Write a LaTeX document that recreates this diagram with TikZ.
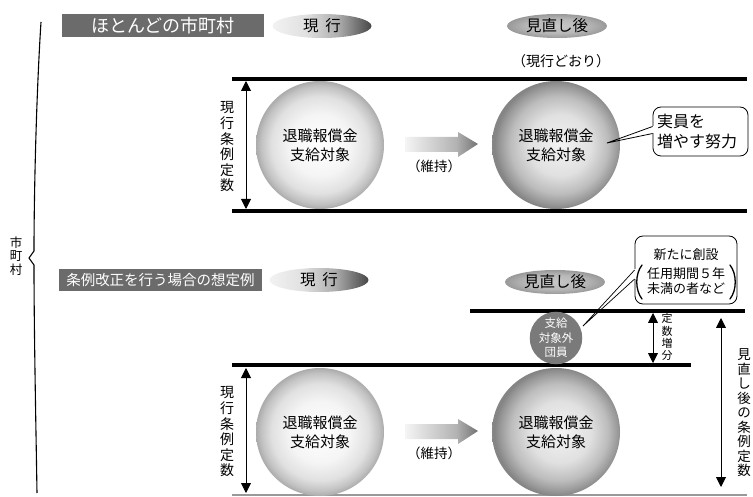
\documentclass[tikz,border=0pt]{standalone}
\usepackage{fontspec}
\setmainfont{Noto Sans CJK JP}
\usetikzlibrary{shapes.geometric,arrows.meta}
\pgfdeclareradialshading{sphA}{\pgfpoint{0bp}{0bp}}{color(0bp)=(white); color(12bp)=(black!4); color(19bp)=(black!12); color(23bp)=(black!24); color(25bp)=(black!33); color(50bp)=(black!33)}
\pgfdeclareradialshading{sphB}{\pgfpoint{2bp}{0bp}}{color(0bp)=(black!5); color(12bp)=(black!12); color(19bp)=(black!26); color(23bp)=(black!40); color(25bp)=(black!48); color(50bp)=(black!48)}
\pgfdeclareradialshading{ovalB}{\pgfpoint{0bp}{0bp}}{color(0bp)=(black!22); color(15bp)=(black!28); color(25bp)=(black!40); color(50bp)=(black!40)}
\pgfdeclarehorizontalshading{ovalA}{100bp}{color(0bp)=(black!5); color(25bp)=(black!5); color(42bp)=(black!12); color(58bp)=(black!32); color(75bp)=(black!72); color(100bp)=(black!72)}
\pgfdeclarehorizontalshading{blockarr}{100bp}{color(0bp)=(black!4); color(25bp)=(black!4); color(60bp)=(black!30); color(75bp)=(black!55); color(100bp)=(black!55)}
\tikzset{
  titlebar/.style={fill=black!58, text=white, inner sep=0pt, minimum height=23pt},
  ovalnow/.style={ellipse, shade, shading=ovalA, minimum width=99pt, minimum height=24pt, inner sep=0pt, font=\fontsize{15.5}{18}\selectfont},
  ovalafter/.style={ellipse, shade, shading=ovalB, minimum width=100pt, minimum height=24pt, inner sep=0pt, font=\fontsize{15.5}{18}\selectfont},
  sphereA/.style={circle, shade, shading=sphA, minimum size=128pt, inner sep=0pt, align=center, font=\fontsize{15}{19}\selectfont},
  sphereB/.style={circle, shade, shading=sphB, minimum size=128pt, inner sep=0pt, align=center, font=\fontsize{15}{19}\selectfont},
  rule/.style={line width=3.8pt},
  vlabel/.style={align=center, inner sep=0pt, font=\fontsize{14}{15.6}\selectfont},
  dimarrow/.style={line width=0.9pt, {Triangle[width=10pt,length=10pt]}-{Triangle[width=10pt,length=10pt]}},
  callout/.style={draw, line width=0.8pt, rounded corners=8pt, fill=white},
  plain/.style={inner sep=0pt, font=\fontsize{13}{16}\selectfont},
  paren/.style={line width=1.3pt, line cap=round},
}
\begin{document}
\begin{tikzpicture}[x=1pt,y=-1pt]
\useasboundingbox (0,0) rectangle (753,497);
% left brace
\draw[line width=1.1pt] (41,22) .. controls (36,100) and (34,200) .. (34,251) -- (29,258) -- (34,265) .. controls (34,330) and (36,430) .. (37,493);
\node[align=center, inner sep=0pt, font=\fontsize{12.5}{13.5}\selectfont] (city) at (16,256) {市\\町\\村};

% ===== section 1 =====
\node[titlebar, minimum width=202pt, font=\fontsize{18}{20}\selectfont] (t1) at (163,25.5) {ほとんどの市町村};
\node[ovalnow] (now1) at (322,26) {現\hspace{0.45em}行};
\node[ovalafter] (after1) at (557,26) {見直し後};
\node[plain, font=\fontsize{14}{16}\selectfont] (same) at (561,61) {（現行どおり）};

\draw[rule] (232,79) -- (747,79);
\draw[rule] (232,211) -- (747,211);

\coordinate (a1t) at (246,81);
\coordinate (a1b) at (246,209);
\draw[dimarrow] (a1t) -- (a1b);
\node[vlabel] (lab1) at (227,147) {現\\行\\条\\例\\定\\数};

\node[sphereA] (s1) at (320,145) {退職報償金\\支給対象};
\node[sphereB] (s2) at (556,145) {退職報償金\\支給対象};

\shade[shading=blockarr] (405,137) -- (458,137) -- (458,132) -- (478,144) -- (458,157) -- (458,152) -- (405,152) -- cycle;
\node[plain, font=\fontsize{13.5}{16}\selectfont] (keep1) at (434,166) {（維持）};

\node[callout, minimum width=95pt, minimum height=49pt] (c1) at (700.5,131.5) {};
\node[align=left, inner sep=0pt, font=\fontsize{16}{20.5}\selectfont, anchor=west] (c1t) at (657,131.5) {実員を\\増やす努力};
\coordinate (p1) at (607,143);
\fill[white] ([xshift=-1.5pt,yshift=-2pt]c1.west) rectangle ([xshift=1.5pt,yshift=5pt]c1.west);
\draw[line width=0.8pt] ([yshift=-2pt]c1.west) -- (p1) -- ([yshift=5pt]c1.west);

% ===== section 2 =====
\node[titlebar, minimum width=203pt, minimum height=22pt, font=\fontsize{14.5}{18}\selectfont] (t2) at (160.5,280) {条例改正を行う場合の想定例};
\node[ovalnow] (now2) at (319,280) {現\hspace{0.45em}行};
\node[ovalafter] (after2) at (555,282) {見直し後};

\draw[rule] (470,311) -- (745,311);
\draw[rule] (232,365) -- (691,365);
\draw[line width=1.4pt, black!40] (232,495) -- (747,495);

\node[circle, fill=black!52, minimum size=52pt, inner sep=0pt, text=white, align=center, font=\fontsize{11.5}{14.5}\selectfont] (sc) at (556,338) {支給\\対象外\\団員};

\node[callout, minimum width=102pt, minimum height=68pt] (c2) at (686,270) {};
\node[plain] (c2a) at (686,255) {新たに創設};
\node[plain, align=center, font=\fontsize{13}{15.5}\selectfont] (c2b) at (686,281) {任用期間５年\\未満の者など};
\draw[paren] (642,265) .. controls (635,274) and (635,290) .. (642,299);
\draw[paren] (730,265) .. controls (737,274) and (737,290) .. (730,299);
\coordinate (p2) at (583,326);
\fill[white] ([xshift=-1.5pt,yshift=-9pt]c2.west) rectangle ([xshift=1.5pt,yshift=1pt]c2.west);
\draw[line width=0.7pt] ([yshift=-9pt]c2.west) -- (p2) -- ([yshift=0pt]c2.west);

\coordinate (a3t) at (653,313);
\coordinate (a3b) at (653,363);
\draw[dimarrow] (a3t) -- (a3b);
\node[vlabel, font=\fontsize{11}{12.3}\selectfont] (lab3) at (667,337) {定\\数\\増\\分};

\coordinate (a4t) at (721,318);
\coordinate (a4b) at (721,487);
\draw[dimarrow] (a4t) -- (a4b);
\node[vlabel, font=\fontsize{13.5}{14.5}\selectfont] (lab4) at (744,413) {見\\直\\し\\後\\の\\条\\例\\定\\数};

\coordinate (a2t) at (246,368);
\coordinate (a2b) at (246,493);
\draw[dimarrow] (a2t) -- (a2b);
\node[vlabel] (lab2) at (227,432) {現\\行\\条\\例\\定\\数};

\node[sphereA] (s3) at (320,432) {退職報償金\\支給対象};
\node[sphereB] (s4) at (556,432) {退職報償金\\支給対象};

\shade[shading=blockarr] (405,424) -- (458,424) -- (458,419) -- (478,431) -- (458,444) -- (458,439) -- (405,439) -- cycle;
\node[plain, font=\fontsize{13.5}{16}\selectfont] (keep2) at (434,453) {（維持）};
\end{tikzpicture}
\end{document}
